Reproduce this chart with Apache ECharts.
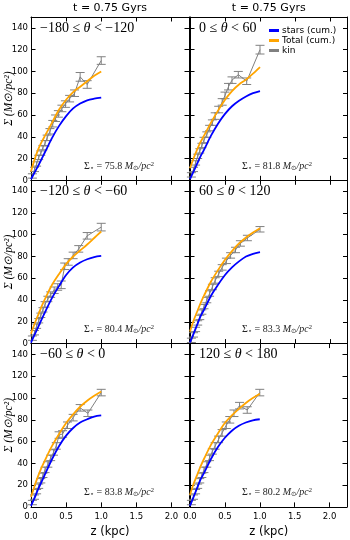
<!DOCTYPE html>
<html>
<head>
<meta charset="utf-8">
<script src="https://cdn.jsdelivr.net/npm/echarts@6/dist/echarts.min.js"></script>
<style>html,body{margin:0;padding:0;background:#fff;}#c{width:350px;height:540px;}</style>
</head>
<body>
<div id="c"></div>
<script>
// ---- data ----
const panelLabels = [
  ['−180 ≤ ', 'θ', ' < −120'],
  ['0 ≤ ', 'θ', ' < 60'],
  ['−120 ≤ ', 'θ', ' < −60'],
  ['60 ≤ ', 'θ', ' < 120'],
  ['−60 ≤ ', 'θ', ' < 0'],
  ['120 ≤ ', 'θ', ' < 180']
];
const sigmaStar = ['75.8', '81.8', '80.4', '83.3', '83.8', '80.2'];
const colTitle = 't = 0.75 Gyrs';
const xTitle = 'z (kpc)';
const yTitle = 'Σ (M⊙/pc²)';
const legendNames = ['stars (cum.)', 'Total (cum.)', 'kin'];

const zCurve = [0, 0.05, 0.1, 0.15, 0.2, 0.3, 0.4, 0.5, 0.6, 0.7, 0.8, 0.9, 1.0];

const starsTL = [1, 7, 13, 19.5, 26, 39, 50, 59, 66, 70.5, 73.5, 75, 76];
const totalTL = [8, 19, 28, 35, 41, 53, 65, 74, 81, 86, 91, 96, 100];
const kinZTL = [0.02,0.05,0.08,0.11,0.14,0.17,0.2,0.23,0.27,0.31,0.35,0.39,0.44,0.49,0.55,0.62,0.7,0.8,1.0];
const kinTL  = [4,10,15,21,25,30,34,39,45,52,57,61,66,70,75,80,95,88,110];
const errTL  = [2,2,2,2,2,2,2.5,2.5,2.5,3,3,3,3,3,3,3,4,3.5,3.5];

const starsTR = [1, 8, 15, 22, 28, 41, 52, 61, 68, 73, 77, 80, 82];
const totalTR = [11, 20, 28, 35, 41, 53, 64, 74, 82, 88, 92.5, 98, 104];
const kinZTR = [0.02,0.05,0.08,0.11,0.14,0.17,0.2,0.24,0.28,0.32,0.36,0.41,0.46,0.5,0.55,0.6,0.69,0.81,1.0];
const kinTR  = [5,10,16,22,27,32,37,42,48,53,59,65,72,78,86,92,97,91,120];
const errTR  = [2,2,2,2,2,2,2.5,2.5,2.5,2.5,3,3,3,3,3,3,3,3,4];

const starsML = [1, 8, 15, 22, 29, 42, 53, 63, 70, 74.5, 77.5, 79.5, 80.5];
const totalML = [9, 18, 26, 34, 41, 54, 64, 73, 80, 85.5, 91, 97, 103];
const kinZML = [0.02,0.05,0.08,0.11,0.14,0.17,0.2,0.24,0.28,0.33,0.38,0.43,0.48,0.53,0.6,0.68,0.8,1.0];
const kinML  = [5,10,16,21,26,31,36,41,45,49,52,54,71,75,81,87,99,107];
const errML  = [2,2,2,2,2,2,2.5,2.5,2.5,3,3,3.5,3,3,3,3,3,3.5];

const starsMR = [1, 9, 17, 25, 31, 44, 54, 63, 70, 75.5, 80, 82.5, 84];
const totalMR = [11, 21, 29, 37, 44, 57, 67.5, 77, 85, 92, 97.5, 102, 106];
const kinZMR = [0.02,0.05,0.08,0.11,0.14,0.17,0.2,0.24,0.28,0.32,0.36,0.41,0.46,0.52,0.58,0.65,0.72,0.82,1.0];
const kinMR  = [3,8,13,19,24,29,34,40,46,52,58,64,70,76,81,86,92,97,105];
const errMR  = [2,2,2,2,2,2,2,2.5,2.5,2.5,2.5,2.5,2.5,2.5,2.5,2.5,2.5,2.5,2.5];

const starsBL = [1, 8, 16, 23, 30, 44, 56, 65.5, 72.5, 77.5, 80.5, 83, 84];
const totalBL = [9, 19, 28, 36, 43, 56, 67, 77, 85, 92, 97.5, 102, 106];
const kinZBL = [0.02,0.05,0.08,0.11,0.14,0.17,0.2,0.24,0.28,0.32,0.36,0.4,0.45,0.52,0.6,0.7,0.81,1.0];
const kinBL  = [4,9,14,19,24,29,34,39,45,50,56,66,67,75,82,91,86,105];
const errBL  = [2,2,2,2,2,2,2.5,2.5,2.5,2.5,3,3,3,3,3,3,3,3];

const starsBR = [1, 9, 17, 25, 31, 44, 55, 63.5, 70, 74.5, 77.5, 79.5, 80.5];
const totalBR = [11, 21, 29, 37, 44, 57, 67.5, 77, 84, 90, 95.5, 100, 104];
const kinZBR = [0.02,0.05,0.08,0.11,0.14,0.17,0.2,0.24,0.28,0.32,0.36,0.41,0.46,0.52,0.57,0.63,0.71,0.82,1.0];
const kinBR  = [4,9,14,19,24,29,34,39,45,51,56,62,68,75,80,86,93,89,105];
const errBR  = [2,2,2,2,2,2,2.5,2.5,2.5,2.5,3,3,3,3,3,3,3,3,3];

const yTicks = [0, 20, 40, 60, 80, 100, 120, 140];
const xTicks = [0.0, 0.5, 1.0, 1.5, 2.0];

// ---- build ----
const panels = [
  [starsTL, totalTL, kinZTL, kinTL, errTL],
  [starsTR, totalTR, kinZTR, kinTR, errTR],
  [starsML, totalML, kinZML, kinML, errML],
  [starsMR, totalMR, kinZMR, kinMR, errMR],
  [starsBL, totalBL, kinZBL, kinBL, errBL],
  [starsBR, totalBR, kinZBR, kinBR, errBR]
];

const colLeft = [31, 190];
const colWidth = [158, 157.5];
const rowTop = [17, 180.3, 343.6];
const rowH = 163.3;
const BLUE = '#0000ff', ORANGE = '#ffa500', GREY = '#808080';
const tickFont = {fontFamily: 'DejaVu Sans', fontSize: 8.5, color: '#000'};

const grids = [], xAxes = [], yAxes = [], series = [], graphics = [];

panels.forEach((p, i) => {
  const row = Math.floor(i / 2), col = i % 2;
  grids.push({left: colLeft[col], top: rowTop[row], width: colWidth[col], height: rowH, containLabel: false});
  const xBase = {
    type: 'value', gridIndex: i, min: 0, max: 2.25, interval: 0.5,
    splitLine: {show: false},
    axisLine: {show: true, onZero: false, lineStyle: {color: '#000', width: 1}},
    axisTick: {show: true, inside: true, length: 4.5, lineStyle: {color: '#000', width: 1}}
  };
  xAxes.push(Object.assign({}, xBase, {
    position: 'bottom',
    axisLabel: Object.assign({show: row === 2, margin: 5,
      formatter: v => xTicks.includes(v) ? v.toFixed(1) : ''}, tickFont)
  }));
  xAxes.push(Object.assign({}, xBase, {position: 'top', axisLabel: {show: false}}));
  const yBase = {
    type: 'value', gridIndex: i, min: 0, max: 150, interval: 20,
    splitLine: {show: false},
    axisLine: {show: true, onZero: false, lineStyle: {color: '#000', width: 1}},
    axisTick: {show: true, inside: true, length: 4.5, lineStyle: {color: '#000', width: 1}}
  };
  yAxes.push(Object.assign({}, yBase, {
    position: 'left',
    axisLabel: Object.assign({show: col === 0, margin: 3,
      formatter: v => yTicks.includes(v) ? String(v) : ''}, tickFont)
  }));
  yAxes.push(Object.assign({}, yBase, {position: 'right', axisLabel: {show: false}}));

  const xa = 2 * i, ya = 2 * i;
  series.push({
    type: 'line', name: legendNames[0], xAxisIndex: xa, yAxisIndex: ya,
    data: zCurve.map((z, k) => [z, p[0][k]]), smooth: 0.3, showSymbol: false,
    lineStyle: {color: BLUE, width: 1.8}, itemStyle: {color: BLUE}, z: 3
  });
  series.push({
    type: 'line', name: legendNames[1], xAxisIndex: xa, yAxisIndex: ya,
    data: zCurve.map((z, k) => [z, p[1][k]]), smooth: 0.3, showSymbol: false,
    lineStyle: {color: ORANGE, width: 1.8}, itemStyle: {color: ORANGE}, z: 4
  });
  series.push({
    type: 'line', name: legendNames[2], xAxisIndex: xa, yAxisIndex: ya,
    data: p[2].map((z, k) => [z, p[3][k]]), showSymbol: false,
    lineStyle: {color: GREY, width: 1}, itemStyle: {color: GREY}, z: 2
  });
  series.push({
    type: 'custom', name: legendNames[2], xAxisIndex: xa, yAxisIndex: ya,
    itemStyle: {color: GREY}, z: 2,
    data: p[2].map((z, k) => [z, p[3][k], p[4][k]]),
    encode: {x: 0, y: 1},
    renderItem: function (params, api) {
      const x = api.value(0), y = api.value(1), e = api.value(2);
      const hi = api.coord([x, y + e]);
      const lo = api.coord([x, y - e]);
      const hw = 4.5;
      const st = {stroke: GREY, lineWidth: 1};
      return {
        type: 'group',
        children: [
          {type: 'line', shape: {x1: hi[0], y1: hi[1], x2: lo[0], y2: lo[1]}, style: st},
          {type: 'line', shape: {x1: hi[0] - hw, y1: hi[1], x2: hi[0] + hw, y2: hi[1]}, style: st},
          {type: 'line', shape: {x1: lo[0] - hw, y1: lo[1], x2: lo[0] + hw, y2: lo[1]}, style: st}
        ]
      };
    }
  });

  // panel label
  const lab = panelLabels[i];
  graphics.push({
    type: 'text', left: colLeft[col] + 9, top: rowTop[row] + 4, z: 10,
    style: {
      text: '{n|' + lab[0] + '}{i|' + lab[1] + '}{n|' + lab[2] + '}',
      rich: {
        n: {fontFamily: 'Liberation Serif', fontSize: 14, fill: '#000'},
        i: {fontFamily: 'Liberation Serif', fontStyle: 'italic', fontSize: 14, fill: '#000'}
      }
    }
  });
  // sigma star annotation
  graphics.push({
    type: 'text', x: colLeft[col] + (col === 0 ? 88 : 87), y: rowTop[row] + 149, z: 10,
    style: {
      text: '{a|Σ}{s|⋆}{a| = ' + sigmaStar[i] + ' }{i|M}{s|⊙}{i|/pc}{p|2}',
      align: 'center', verticalAlign: 'middle',
      rich: {
        a: {fontFamily: 'Liberation Serif', fontSize: 10, fill: '#222'},
        i: {fontFamily: 'Liberation Serif', fontStyle: 'italic', fontSize: 10, fill: '#222'},
        s: {fontFamily: 'DejaVu Sans', fontSize: 6.5, fill: '#222', verticalAlign: 'bottom', padding: [3, 0, 0, 0]},
        p: {fontFamily: 'Liberation Serif', fontSize: 6.5, fill: '#222', padding: [0, 0, 4, 0]}
      }
    }
  });
  // y title on left column
  if (col === 0) {
    graphics.push({
      type: 'text', x: 9, y: rowTop[row] + rowH / 2, rotation: Math.PI / 2, z: 10,
      style: {
        text: yTitle, align: 'center', verticalAlign: 'middle',
        fontFamily: 'Liberation Serif', fontStyle: 'italic', fontSize: 11.5, fill: '#000'
      }
    });
  }
});

// column titles and x titles
[0, 1].forEach(col => {
  const cx = colLeft[col] + colWidth[col] / 2;
  graphics.push({type: 'text', x: cx, y: 8, z: 10,
    style: {text: colTitle, align: 'center', verticalAlign: 'middle', fontFamily: 'DejaVu Sans', fontSize: 11, fill: '#000'}});
  graphics.push({type: 'text', x: cx, y: 532, z: 10,
    style: {text: xTitle, align: 'center', verticalAlign: 'middle', fontFamily: 'DejaVu Sans', fontSize: 11.5, fill: '#000'}});
});

const chart = echarts.init(document.getElementById('c'), null, {renderer: 'canvas'});
chart.setOption({
  animation: false,
  backgroundColor: '#fff',
  grid: grids,
  xAxis: xAxes,
  yAxis: yAxes,
  legend: {
    data: legendNames.map(n => ({name: n, icon: 'rect'})),
    orient: 'vertical', left: 269, top: 26,
    itemWidth: 10, itemHeight: 3, itemGap: 1,
    textStyle: {fontFamily: 'DejaVu Sans', fontSize: 9, color: '#000', padding: [0, 0, 0, -2], lineHeight: 9},
    padding: 0, selectedMode: false
  },
  series: series,
  graphic: graphics
});
</script>
</body>
</html>
